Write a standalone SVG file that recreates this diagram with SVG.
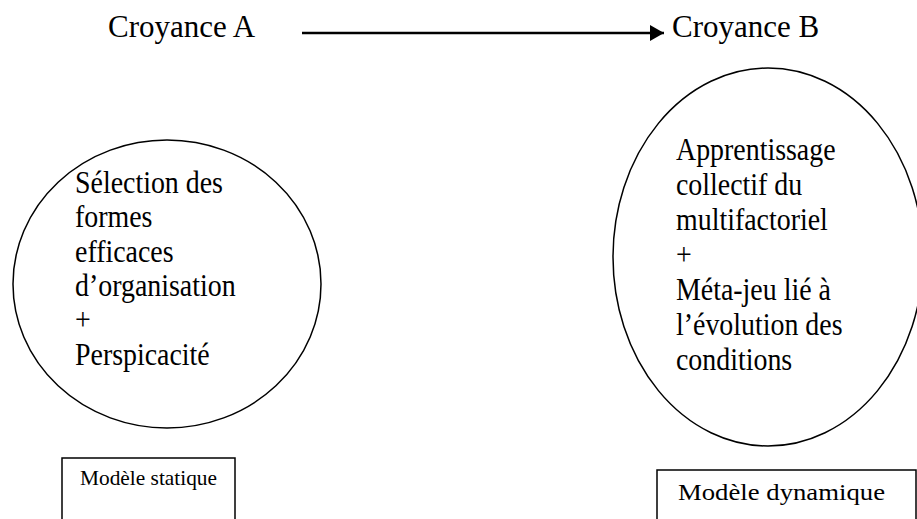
<svg xmlns="http://www.w3.org/2000/svg" width="917" height="519" viewBox="0 0 917 519">
<defs>
<style>
.t{font-family:"Liberation Serif","Times New Roman",serif;font-size:31px;fill:#000}
.h{font-family:"Liberation Serif","Times New Roman",serif;font-size:31px;fill:#000}
.s{font-family:"Liberation Serif","Times New Roman",serif;font-size:21px;fill:#000}
.sh{fill:none;stroke:#000;stroke-width:1.5}
</style>
<marker id="ah" markerWidth="14" markerHeight="16" refX="14" refY="8" orient="auto" markerUnits="userSpaceOnUse" viewBox="0 0 14 16">
<path d="M0,0 L14,8 L0,16 Z" fill="#000"/>
</marker>
</defs>
<rect width="917" height="519" fill="#fff"/>
<g id="croyanceA"><text class="h" x="108" y="37">Croyance A</text></g>
<g id="croyanceB"><text class="h" x="672" y="37">Croyance B</text></g>
<g id="connectors">
<line x1="302" y1="33" x2="664" y2="33" stroke="#000" stroke-width="2.5" marker-end="url(#ah)"/>
</g>
<g id="ellipseA">
<ellipse class="sh" cx="167" cy="284" rx="154" ry="144"/>
<text class="t" transform="matrix(0.9 0 0 1 7.5 0)"><tspan x="75" y="193">Sélection des</tspan><tspan x="75" y="227">formes</tspan><tspan x="75" y="262">efficaces</tspan><tspan x="75" y="296">d’organisation</tspan><tspan x="75" y="330">+</tspan><tspan x="75" y="365">Perspicacité</tspan></text>
</g>
<g id="ellipseB">
<ellipse class="sh" cx="768" cy="257" rx="155" ry="189"/>
<text class="t" transform="matrix(0.9 0 0 1 67.6 0)"><tspan x="676" y="160">Apprentissage</tspan><tspan x="676" y="195">collectif du</tspan><tspan x="676" y="230">multifactoriel</tspan><tspan x="676" y="265">+</tspan><tspan x="676" y="300">Méta-jeu lié à</tspan><tspan x="676" y="335">l’évolution des</tspan><tspan x="676" y="370">conditions</tspan></text>
</g>
<g id="modeleStatique">
<rect class="sh" x="62" y="458" width="173" height="80"/>
<text class="s" x="80" y="485" textLength="137" lengthAdjust="spacingAndGlyphs">Modèle  statique</text>
</g>
<g id="modeleDynamique">
<rect class="sh" x="657" y="470" width="259" height="80"/>
<text class="s" x="678" y="500" textLength="207" lengthAdjust="spacingAndGlyphs" style="font-size:23px">Modèle dynamique</text>
</g>
</svg>
